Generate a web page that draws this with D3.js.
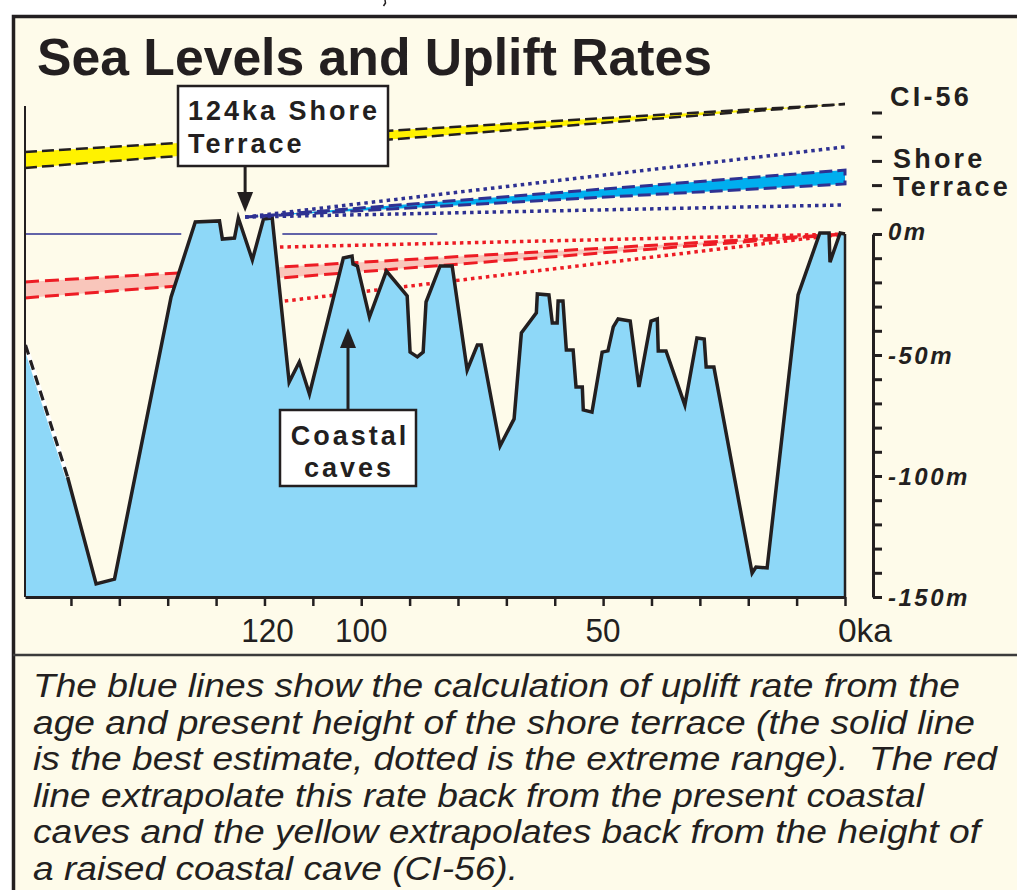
<!DOCTYPE html>
<html>
<head>
<meta charset="utf-8">
<script src="https://cdn.jsdelivr.net/npm/d3@7"></script>
<style>
  html, body { margin: 0; padding: 0; background: #fff; }
  svg { display: block; }
  text { font-family: 'Liberation Sans', Arial, Helvetica, sans-serif; fill: #231F20; white-space: pre; }
</style>
</head>
<body>
<div id="content"></div>
<script>
// sea level curve, [age ka, level m]
const seaLevel = [
  [169.4, -45.9], [160.7, -100.4], [154.8, -144.6], [151.0, -142.6], [139.3, -26.0],
  [134.3, 5.0], [129.3, 5.4], [128.7, -2.1], [126.2, -1.7], [125.4, 6.6],
  [122.5, -10.7], [120.2, 6.2], [118.4, 6.6], [114.9, -61.2], [112.8, -52.9],
  [110.7, -66.1], [103.7, -9.9], [101.9, -9.1], [101.7, -12.4], [100.8, -13.2],
  [98.3, -34.3], [94.8, -15.3], [90.5, -25.6], [89.9, -48.8], [88.4, -50.8],
  [87.2, -48.8], [86.6, -28.1], [83.7, -13.2], [81.2, -13.2], [78.1, -56.2],
  [76.0, -45.9], [75.2, -45.9], [71.3, -87.6], [68.4, -76.4], [66.9, -40.9],
  [63.8, -32.6], [63.6, -24.8], [61.2, -25.2], [60.5, -36.8], [59.5, -36.8],
  [59.3, -27.7], [58.3, -27.7], [57.6, -47.9], [56.2, -47.9], [55.6, -63.2],
  [54.3, -63.2], [54.1, -72.7], [52.3, -73.6], [50.2, -48.8], [49.0, -48.3],
  [47.9, -38.4], [46.9, -35.1], [44.4, -36.0], [42.6, -63.2], [40.1, -36.0],
  [38.8, -35.1], [38.6, -48.3], [37.0, -48.3], [33.1, -70.7], [30.6, -43.0],
  [29.1, -43.4], [28.7, -55.0], [27.1, -55.0], [19.2, -140.1], [18.4, -137.6],
  [16.1, -138.0], [9.7, -25.2], [5.2, 0.4], [3.3, 0.4], [3.1, -11.6],
  [1.0, 0.4], [0, 0],
];

// uplift extrapolations, [age ka, level m]
const ci56Upper = [[169.5, 33.9], [0, 53.7]];
const ci56Lower = [[169.5, 27.3], [0, 53.7]];
const terraceUpper = [[124, 7.0], [0, 26.4]];
const terraceLower = [[124, 7.0], [0, 20.7]];
const terraceMax = [[124, 7.0], [0, 36.0]];
const terraceMin = [[124, 7.0], [0, 12.0]];
const cavesUpper = [[169.5, -19.8], [0, 0]];
const cavesLower = [[169.5, -26.4], [0, 0]];
const cavesMin = [[116.8, -5.4], [0, 0]];
const cavesMax = [[115.8, -27.7], [0, 0]];
const zeroLines = [
  [[169.5, 0], [137.2, 0]],
  [[116.3, 0], [84.3, 0]],
];

const xTickValues = [160, 150, 140, 130, 120, 110, 100, 90, 80, 70, 60, 50, 40, 30, 20, 10, 0];
const xLabels = [[120, '120'], [100, '100'], [50, '50']];
const yTickValues = [0, -10, -20, -30, -40, -50, -60, -70, -80, -90, -100, -110, -120, -130, -140, -150];
const yMinorTicks = [10, 20, 30, 40, 50];
const yLabels = [[0, '0m'], [-50, '-50m'], [-100, '-100m'], [-150, '-150m']];

const captionLines = [
  'The blue lines show the calculation of uplift rate from the',
  'age and present height of the shore terrace (the solid line',
  'is the best estimate, dotted is the extreme range).  The red',
  'line extrapolate this rate back from the present coastal',
  'caves and the yellow extrapolates back from the height of',
  'a raised coastal cave (CI-56).',
];
const captionWidths = [927, 942, 964, 891, 947, 485];

const W = 1017, H = 890;
const ink = '#231F20';
const cream = '#FEFBEA';
const navy = '#2E3192';
const red = '#ED1C24';

const svg = d3.select('#content').append('svg')
  .attr('width', W).attr('height', H);

svg.append('rect').attr('width', W).attr('height', H).attr('fill', '#fff');
// scrap of whatever sat above the panel
svg.append('path').attr('d', 'M385,0 L385.5,3 L383.5,6')
  .attr('fill', 'none').attr('stroke', ink).attr('stroke-width', 1.5);

// panel
svg.append('rect')
  .attr('x', 13.5).attr('y', 16.5).attr('width', 1200).attr('height', 1000)
  .attr('fill', cream).attr('stroke', ink).attr('stroke-width', 3.5);
svg.append('line')
  .attr('x1', 13).attr('x2', W).attr('y1', 655).attr('y2', 655)
  .attr('stroke', '#3b3b3b').attr('stroke-width', 2.5);

svg.append('text')
  .attr('x', 37).attr('y', 75)
  .attr('font-size', 52).attr('font-weight', 'bold')
  .attr('textLength', 675).attr('lengthAdjust', 'spacingAndGlyphs')
  .text('Sea Levels and Uplift Rates');

const x = d3.scaleLinear().domain([169.5, 0]).range([25, 845]);
const y = d3.scaleLinear().domain([-150, 50]).range([597, 113]);
const line = d3.line().x(d => x(d[0])).y(d => y(d[1]));
const band = (upper, lower) => line(upper.concat(lower.slice().reverse())) + 'Z';

const plot = svg.append('g');

// CI-56 (yellow)
plot.append('path').attr('d', band(ci56Upper, ci56Lower)).attr('fill', '#FFF200');
[ci56Upper, ci56Lower].forEach(l => {
  plot.append('path').attr('d', line(l)).attr('fill', 'none')
    .attr('stroke', ink).attr('stroke-width', 2.5).attr('stroke-dasharray', '12,5');
});

// present caves (red)
plot.append('path').attr('d', band(cavesUpper, cavesLower)).attr('fill', '#F9C6BB');
[cavesUpper, cavesLower].forEach(l => {
  plot.append('path').attr('d', line(l)).attr('fill', 'none')
    .attr('stroke', red).attr('stroke-width', 3).attr('stroke-dasharray', '14,6');
});
[cavesMin, cavesMax].forEach(l => {
  plot.append('path').attr('d', line(l)).attr('fill', 'none')
    .attr('stroke', red).attr('stroke-width', 3.5).attr('stroke-dasharray', '3.5,4');
});

zeroLines.forEach(l => {
  plot.append('path').attr('d', line(l)).attr('fill', 'none')
    .attr('stroke', navy).attr('stroke-width', 1.5);
});

// sea level
const area = d3.area().x(d => x(d[0])).y0(y(-150)).y1(d => y(d[1]));
plot.append('path').attr('d', area(seaLevel)).attr('fill', '#8ED8F8');
plot.append('path').attr('d', line(seaLevel.slice(0, 2))).attr('fill', 'none')
  .attr('stroke', '#fff').attr('stroke-width', 4.5);
plot.append('path').attr('d', line(seaLevel.slice(0, 2))).attr('fill', 'none')
  .attr('stroke', ink).attr('stroke-width', 3.2).attr('stroke-dasharray', '10,6');
plot.append('path').attr('d', line(seaLevel.slice(1))).attr('fill', 'none')
  .attr('stroke', ink).attr('stroke-width', 3.5).attr('stroke-linejoin', 'miter');
plot.append('path').attr('d', line([[0, 0], [0, -150]])).attr('fill', 'none')
  .attr('stroke', ink).attr('stroke-width', 2.5);

// shore terrace (blue)
plot.append('path').attr('d', band(terraceUpper, terraceLower))
  .attr('fill', '#00AEEF').attr('stroke', navy).attr('stroke-width', 3)
  .attr('stroke-dasharray', '13,5');
[terraceMax, terraceMin].forEach(l => {
  plot.append('path').attr('d', line(l)).attr('fill', 'none')
    .attr('stroke', navy).attr('stroke-width', 3.5).attr('stroke-dasharray', '3.5,4');
});

// axes
svg.append('line')
  .attr('x1', x(169.5)).attr('x2', x(169.5)).attr('y1', 106).attr('y2', y(-150))
  .attr('stroke', ink).attr('stroke-width', 2);

const xAxis = svg.append('g').attr('transform', `translate(0, ${y(-150)})`)
  .call(d3.axisBottom(x).tickValues(xTickValues).tickSize(9).tickSizeOuter(0).tickFormat(''));
xAxis.select('.domain').attr('stroke', ink).attr('stroke-width', 3);
xAxis.selectAll('.tick line').attr('stroke', ink).attr('stroke-width', 2.5);

xLabels.forEach(([v, t]) => {
  svg.append('text').attr('x', x(v) + (v === 120 ? 3 : 0)).attr('y', 642)
    .attr('text-anchor', 'middle').attr('font-size', 34)
    .attr('textLength', t.length * 17.5).attr('lengthAdjust', 'spacingAndGlyphs').text(t);
});
svg.append('text').attr('x', x(0) - 7).attr('y', 642)
  .attr('font-size', 34).attr('textLength', 54).attr('lengthAdjust', 'spacingAndGlyphs').text('0ka');

const yAxisScale = y.copy().domain([-150, 0]).range([y(-150), y(0)]);
const yAxis = svg.append('g').attr('transform', 'translate(873, 0)')
  .call(d3.axisRight(yAxisScale).tickValues(yTickValues).tickSize(9).tickSizeOuter(0).tickFormat(''));
yAxis.select('.domain').attr('stroke', ink).attr('stroke-width', 3);
yAxis.selectAll('.tick line').attr('stroke', ink).attr('stroke-width', 3);

yMinorTicks.forEach(v => {
  svg.append('line').attr('x1', 872).attr('x2', 882).attr('y1', y(v)).attr('y2', y(v))
    .attr('stroke', ink).attr('stroke-width', 3);
});

yLabels.forEach(([v, t]) => {
  svg.append('text').attr('x', 888).attr('y', y(v) + (v === 0 ? 6 : 9))
    .attr('font-size', 24).attr('font-weight', 'bold').attr('font-style', 'italic')
    .attr('letter-spacing', 2.5).text(t);
});

const sideLabel = (t, tx, ty) => svg.append('text')
  .attr('x', tx).attr('y', ty)
  .attr('font-size', 27).attr('font-weight', 'bold').attr('letter-spacing', 3.2).text(t);
sideLabel('CI-56', 890, 106);
sideLabel('Shore', 893, 168);
sideLabel('Terrace', 893, 196);

// callout boxes
const callout = (bx, by, bw, bh, lines, anchor) => {
  svg.append('rect').attr('x', bx).attr('y', by).attr('width', bw).attr('height', bh)
    .attr('fill', '#fff').attr('stroke', ink).attr('stroke-width', 2.5);
  lines.forEach(([t, tx, ty]) => {
    svg.append('text').attr('x', tx).attr('y', ty)
      .attr('text-anchor', anchor)
      .attr('font-size', 27).attr('font-weight', 'bold').attr('letter-spacing', 3).text(t);
  });
};
callout(178, 86, 210, 80, [['124ka Shore', 188, 120], ['Terrace', 188, 153]], 'start');
callout(280, 410, 136, 76, [['Coastal', 350, 445], ['caves', 349, 477]], 'middle');

const arrow = (ax, from, tip) => {
  const dir = tip > from ? 1 : -1;
  svg.append('line').attr('x1', ax).attr('x2', ax).attr('y1', from).attr('y2', tip - dir * 16)
    .attr('stroke', ink).attr('stroke-width', 3);
  svg.append('path')
    .attr('d', `M${ax},${tip}L${ax - 8},${tip - dir * 20}L${ax + 8},${tip - dir * 20}Z`)
    .attr('fill', ink);
};
arrow(x(124), 166, 212);
arrow(348, 410, 328);

// caption
captionLines.forEach((t, i) => {
  svg.append('text').attr('x', 33).attr('y', 697 + i * 36.5)
    .attr('font-size', 33).attr('font-style', 'italic')
    .attr('textLength', captionWidths[i]).attr('lengthAdjust', 'spacingAndGlyphs')
    .text(t);
});
</script>
</body>
</html>
